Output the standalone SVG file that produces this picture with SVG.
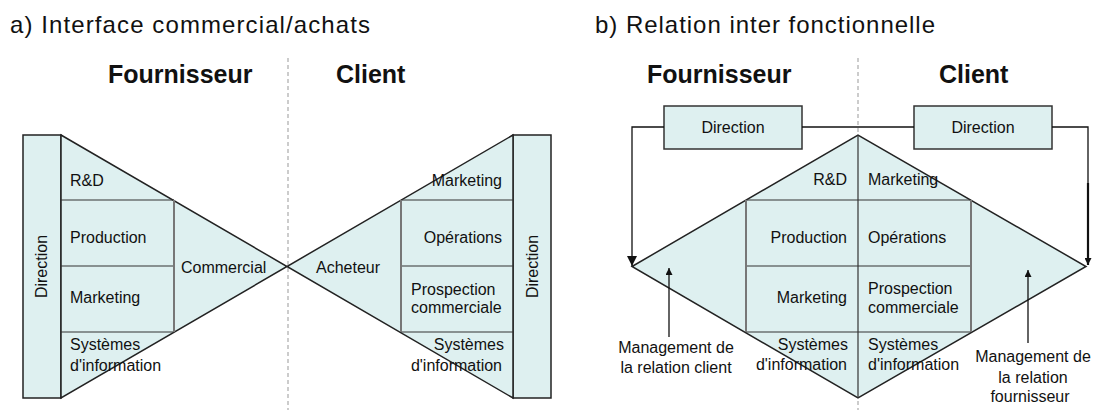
<svg xmlns="http://www.w3.org/2000/svg" width="1093" height="410" viewBox="0 0 1093 410">
<defs>
<style>
text{font-family:"Liberation Sans",Arial,sans-serif;fill:#111;}
.t{font-size:16px;}
.title{font-size:24px;}
.hdr{font-size:25px;font-weight:bold;}
.fill{fill:#DEF0F0;stroke:#222;stroke-width:1.5;}
.box{fill:#DEF0F0;stroke:#333;stroke-width:1.5;}
.h{stroke:#333;stroke-width:1.2;fill:none;}
.v{stroke:#777;stroke-width:2;fill:none;}
.dash{stroke:#999;stroke-width:1;stroke-dasharray:4 3;fill:none;}
.con{stroke:#111;stroke-width:1.3;fill:none;}
.e{text-anchor:end;}
.m{text-anchor:middle;}
</style>
<marker id="arr" viewBox="0 0 10 10" refX="10" refY="5" markerWidth="10" markerHeight="10" markerUnits="userSpaceOnUse" orient="auto">
<path d="M0,0 L10,5 L0,10 z" fill="#111"/>
</marker>
<marker id="arrs" viewBox="0 0 10 10" refX="10" refY="5" markerWidth="9" markerHeight="7" markerUnits="userSpaceOnUse" orient="auto">
<path d="M0,0 L10,5 L0,10 z" fill="#111"/>
</marker>
</defs>
<rect width="1093" height="410" fill="#fff"/>

<g id="titles">
<text class="title" x="10" y="33" textLength="360" lengthAdjust="spacing">a) Interface commercial/achats</text>
<text class="title" x="595" y="33" textLength="340" lengthAdjust="spacing">b) Relation inter fonctionnelle</text>
<text class="hdr" x="108" y="83">Fournisseur</text>
<text class="hdr" x="336" y="83">Client</text>
<text class="hdr" x="647" y="83">Fournisseur</text>
<text class="hdr" x="939" y="83">Client</text>
</g>

<g id="separators">
<line class="dash" x1="288" y1="58" x2="288" y2="410"/>
<line class="dash" x1="858" y1="58" x2="858" y2="410"/>
</g>

<!-- Part a -->
<g id="a-fournisseur">
<rect class="fill" x="23" y="135" width="38" height="263"/>
<polygon class="fill" points="61,135 287,266.5 61,398"/>
<line class="h" x1="61" y1="200" x2="174" y2="200"/>
<line class="h" x1="61" y1="266" x2="174" y2="266"/>
<line class="h" x1="61" y1="332" x2="174" y2="332"/>
<line class="v" x1="174" y1="200" x2="174" y2="332"/>
<text class="t m" transform="translate(47,266.5) rotate(-90)">Direction</text>
<text class="t" x="70" y="186">R&amp;D</text>
<text class="t" x="70" y="243">Production</text>
<text class="t" x="70" y="303">Marketing</text>
<text class="t" x="70" y="350">Systèmes</text>
<text class="t" x="70" y="371">d'information</text>
<text class="t" x="181" y="273">Commercial</text>
</g>

<g id="a-client">
<rect class="fill" x="513" y="135" width="38" height="263"/>
<polygon class="fill" points="513,135 287,266.5 513,398"/>
<line class="h" x1="401" y1="200" x2="513" y2="200"/>
<line class="h" x1="401" y1="266" x2="513" y2="266"/>
<line class="h" x1="401" y1="332" x2="513" y2="332"/>
<line class="v" x1="401" y1="200" x2="401" y2="332"/>
<text class="t m" transform="translate(538,266.5) rotate(-90)">Direction</text>
<text class="t e" x="502" y="186">Marketing</text>
<text class="t e" x="502" y="243">Opérations</text>
<text class="t" x="411" y="295">Prospection</text>
<text class="t" x="411" y="313">commerciale</text>
<text class="t e" x="504" y="350">Systèmes</text>
<text class="t e" x="502" y="371">d'information</text>
<text class="t" x="316" y="273">Acheteur</text>
</g>

<!-- Part b -->
<g id="b-diamond">
<polygon class="fill" points="632,266.5 858,135 1086,266.5 858,398"/>
<line class="h" x1="746" y1="200" x2="971" y2="200"/>
<line class="h" x1="746" y1="266" x2="971" y2="266"/>
<line class="h" x1="746" y1="332" x2="971" y2="332"/>
<line class="v" x1="746" y1="200" x2="746" y2="332"/>
<line class="v" x1="971" y1="200" x2="971" y2="332"/>
<line class="h" x1="858" y1="135" x2="858" y2="398"/>
</g>

<g id="b-fournisseur-text">
<text class="t e" x="847" y="185">R&amp;D</text>
<text class="t e" x="847" y="243">Production</text>
<text class="t e" x="847" y="303">Marketing</text>
<text class="t e" x="848" y="350">Systèmes</text>
<text class="t e" x="847" y="370">d'information</text>
</g>

<g id="b-client-text">
<text class="t" x="868" y="185">Marketing</text>
<text class="t" x="868" y="243">Opérations</text>
<text class="t" x="868" y="294">Prospection</text>
<text class="t" x="868" y="313">commerciale</text>
<text class="t" x="868" y="350">Systèmes</text>
<text class="t" x="868" y="370">d'information</text>
</g>

<g id="b-direction-fournisseur">
<rect class="box" x="664" y="106" width="138" height="43"/>
<text class="t m" x="733" y="133">Direction</text>
</g>

<g id="b-direction-client">
<rect class="box" x="914" y="106" width="138" height="43"/>
<text class="t m" x="983" y="133">Direction</text>
</g>

<g id="b-label-client">
<text class="t m" x="676" y="353">Management de</text>
<text class="t m" x="676" y="373">la relation client</text>
</g>

<g id="b-label-fournisseur">
<text class="t m" x="1033" y="362">Management de</text>
<text class="t m" x="1033" y="383">la relation</text>
<text class="t m" x="1030" y="402">fournisseur</text>
</g>

<g id="connectors">
<polyline class="con" points="664,127 632,127 632,266" marker-end="url(#arr)"/>
<line class="con" x1="802" y1="127" x2="914" y2="127"/>
<polyline class="con" points="1052,127 1088,127 1088,183"/>
<line x1="1088" y1="183" x2="1088" y2="265" stroke="#111" stroke-width="2.2" marker-end="url(#arrs)"/>
<line class="con" x1="669" y1="337" x2="669" y2="268" marker-end="url(#arrs)"/>
<line class="con" x1="1028" y1="343" x2="1028" y2="270" marker-end="url(#arrs)"/>
</g>
</svg>
